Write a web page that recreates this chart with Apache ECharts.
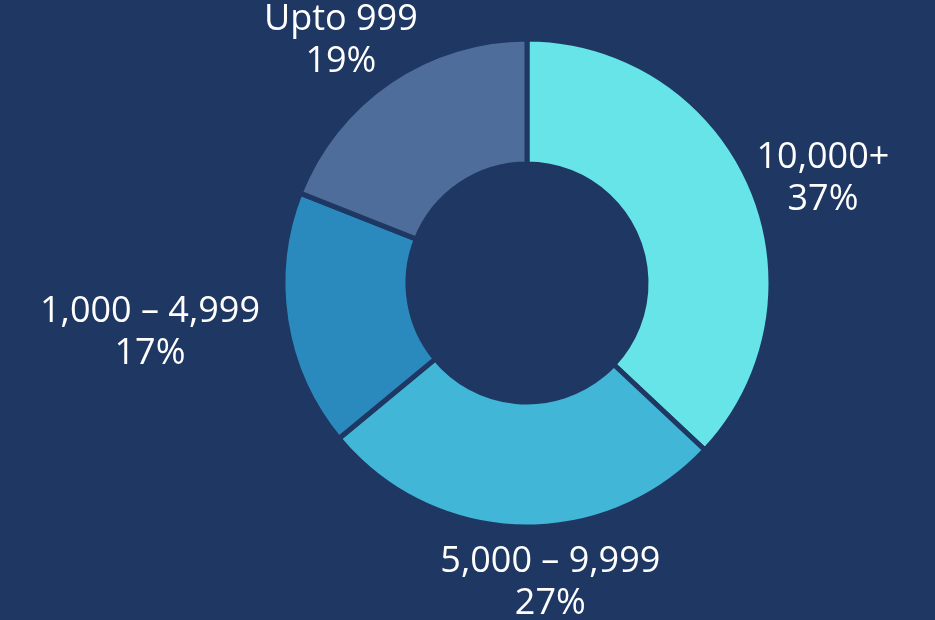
<!DOCTYPE html>
<html>
<head>
<meta charset="utf-8">
<script src="https://cdn.jsdelivr.net/npm/echarts@6/dist/echarts.min.js"></script>
<style>
    html, body { margin: 0; padding: 0; background: #1f3763; }
    #chart { width: 935px; height: 620px; }
</style>
</head>
<body>
<div id="chart"></div>
<script>
// data
const categories = ['10,000+', '5,000 – 9,999', '1,000 – 4,999', 'Upto 999'];
const shares = [37, 27, 17, 19];
const colors = ['#67e4e8', '#41b6d6', '#2b8abd', '#4f6d9a'];
// label nudges relative to where the pie puts them
const labelShift = [[72, -7], [31, 56], [-136, 12], [-49, -40]];

const chart = echarts.init(document.getElementById('chart'));
const option = {
    backgroundColor: '#1f3763',
    animation: false,
    series: [{
        type: 'pie',
        center: [527, 283],
        radius: [119, 244],
        startAngle: 90,
        clockwise: true,
        itemStyle: {
            borderColor: '#1f3763',
            borderWidth: 5
        },
        label: {
            show: true,
            position: 'outside',
            color: '#ffffff',
            fontFamily: 'Open Sans',
            fontSize: 36,
            lineHeight: 42,
            distanceToLabelLine: 0,
            formatter: p => p.name + '\n' + p.value + '%'
        },
        labelLine: { show: false, length: 0, length2: 0 },
        labelLayout: p => ({
            align: 'center',
            dx: labelShift[p.dataIndex][0],
            dy: labelShift[p.dataIndex][1]
        }),
        emphasis: { disabled: true },
        data: categories.map((name, i) => ({
            name: name,
            value: shares[i],
            itemStyle: { color: colors[i] }
        }))
    }]
};
chart.setOption(option);
</script>
</body>
</html>
